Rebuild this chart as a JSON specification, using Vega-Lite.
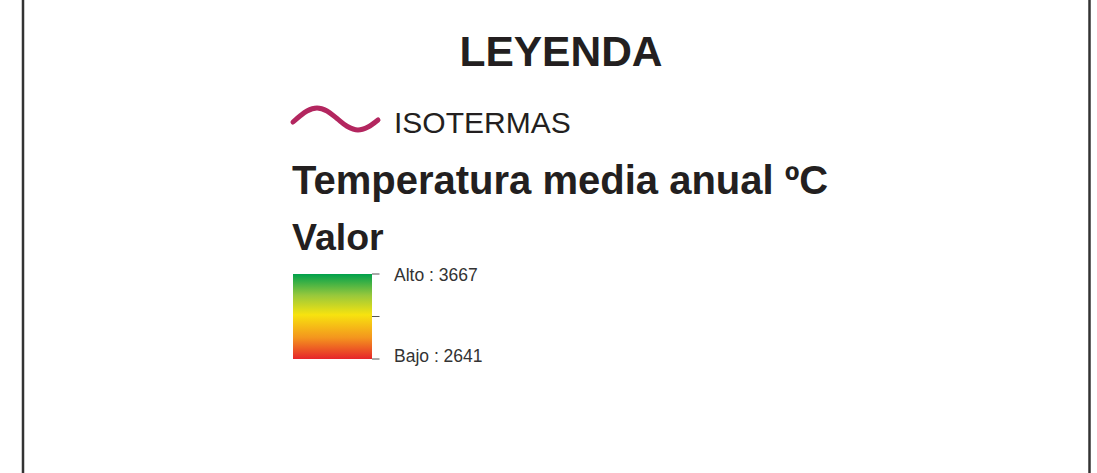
{
  "$schema": "https://vega.github.io/schema/vega-lite/v6.json",
  "width": 1097,
  "height": 473,
  "autosize": "none",
  "padding": 0,
  "background": "#ffffff",
  "config": {"view": {"stroke": null}},
  "datasets": {
    "borders": [
      {"x": 23, "y": 0, "y2": 473},
      {"x": 1089.5, "y": 0, "y2": 473}
    ],
    "wave": [
      {"x": 293, "y": 122},
      {"x": 300, "y": 116},
      {"x": 307, "y": 111},
      {"x": 317, "y": 108},
      {"x": 327, "y": 111},
      {"x": 337, "y": 118.6},
      {"x": 347, "y": 126.3},
      {"x": 358, "y": 130},
      {"x": 368, "y": 127},
      {"x": 378, "y": 120}
    ],
    "title": [{"x": 561, "y": 66, "label": "LEYENDA"}],
    "heads": [
      {"x": 292, "y": 193.5, "label": "Temperatura media anual ºC"}
    ],
    "heads2": [
      {"x": 292, "y": 250, "label": "Valor"}
    ],
    "iso": [{"x": 394, "y": 132.5, "label": "ISOTERMAS"}],
    "ramp": [{"x": 293, "x2": 372, "y": 274, "y2": 359}],
    "ticks": [
      {"x": 372, "x2": 379.5, "y": 274},
      {"x": 372, "x2": 379.5, "y": 316.5},
      {"x": 372, "x2": 379.5, "y": 359}
    ],
    "labels": [
      {"x": 394, "y": 280.5, "label": "Alto : 3667"},
      {"x": 394, "y": 362, "label": "Bajo : 2641"}
    ]
  },
  "encoding": {},
  "layer": [
    {
      "data": {"name": "borders"},
      "mark": {"type": "rule", "color": "#333333", "strokeWidth": 2.5},
      "encoding": {
        "x": {"field": "x", "type": "quantitative", "scale": {"domain": [0, 1097], "nice": false, "zero": false}, "axis": null},
        "y": {"field": "y", "type": "quantitative", "scale": {"domain": [0, 473], "nice": false, "zero": false, "reverse": true}, "axis": null},
        "y2": {"field": "y2"}
      }
    },
    {
      "data": {"name": "ramp"},
      "mark": {
        "type": "rect",
        "fill": {
          "gradient": "linear", "x1": 0, "y1": 0, "x2": 0, "y2": 1,
          "stops": [
            {"offset": 0, "color": "#00a14b"},
            {"offset": 0.25, "color": "#97c83c"},
            {"offset": 0.48, "color": "#f7e30f"},
            {"offset": 0.75, "color": "#f4951e"},
            {"offset": 1, "color": "#e6252a"}
          ]
        }
      },
      "encoding": {
        "x": {"field": "x", "type": "quantitative"},
        "x2": {"field": "x2"},
        "y": {"field": "y", "type": "quantitative"},
        "y2": {"field": "y2"}
      }
    },
    {
      "data": {"name": "ticks"},
      "mark": {"type": "rule", "color": "#555555", "strokeWidth": 1},
      "encoding": {
        "x": {"field": "x", "type": "quantitative"},
        "x2": {"field": "x2"},
        "y": {"field": "y", "type": "quantitative"}
      }
    },
    {
      "data": {"name": "wave"},
      "mark": {"type": "line", "color": "#b3265f", "strokeWidth": 5, "strokeCap": "round", "interpolate": "monotone"},
      "encoding": {
        "x": {"field": "x", "type": "quantitative"},
        "y": {"field": "y", "type": "quantitative"}
      }
    },
    {
      "data": {"name": "title"},
      "mark": {"type": "text", "font": "Liberation Sans", "fontWeight": "bold", "fontSize": 42.5, "align": "center", "baseline": "alphabetic", "color": "#231f20"},
      "encoding": {
        "x": {"field": "x", "type": "quantitative"},
        "y": {"field": "y", "type": "quantitative"},
        "text": {"field": "label"}
      }
    },
    {
      "data": {"name": "heads"},
      "mark": {"type": "text", "font": "Liberation Sans", "fontWeight": "bold", "fontSize": 40, "align": "left", "baseline": "alphabetic", "color": "#231f20"},
      "encoding": {
        "x": {"field": "x", "type": "quantitative"},
        "y": {"field": "y", "type": "quantitative"},
        "text": {"field": "label"}
      }
    },
    {
      "data": {"name": "heads2"},
      "mark": {"type": "text", "font": "Liberation Sans", "fontWeight": "bold", "fontSize": 37.5, "align": "left", "baseline": "alphabetic", "color": "#231f20"},
      "encoding": {
        "x": {"field": "x", "type": "quantitative"},
        "y": {"field": "y", "type": "quantitative"},
        "text": {"field": "label"}
      }
    },
    {
      "data": {"name": "iso"},
      "mark": {"type": "text", "font": "Liberation Sans", "fontSize": 30, "align": "left", "baseline": "alphabetic", "color": "#231f20"},
      "encoding": {
        "x": {"field": "x", "type": "quantitative"},
        "y": {"field": "y", "type": "quantitative"},
        "text": {"field": "label"}
      }
    },
    {
      "data": {"name": "labels"},
      "mark": {"type": "text", "font": "Liberation Sans", "fontSize": 17.5, "align": "left", "baseline": "alphabetic", "color": "#333333"},
      "encoding": {
        "x": {"field": "x", "type": "quantitative"},
        "y": {"field": "y", "type": "quantitative"},
        "text": {"field": "label"}
      }
    }
  ]
}
